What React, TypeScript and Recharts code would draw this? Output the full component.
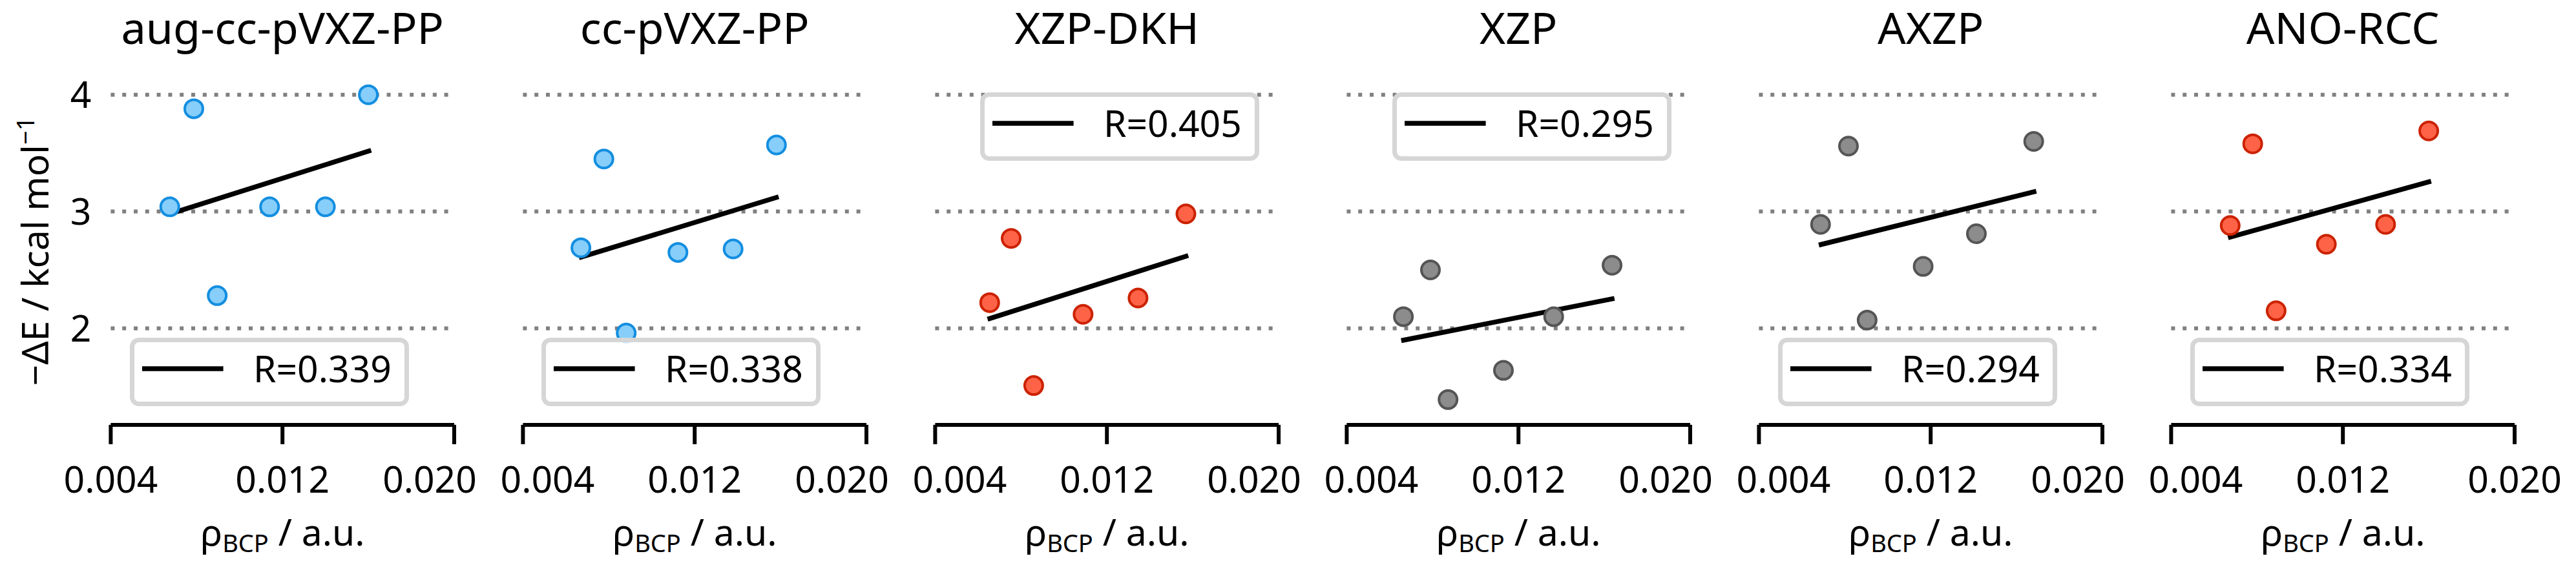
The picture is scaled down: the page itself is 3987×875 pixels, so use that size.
import { CartesianGrid, ComposedChart, Legend, Line, Scatter, XAxis, YAxis } from 'recharts'

const titles = ['aug-cc-pVXZ-PP', 'cc-pVXZ-PP', 'XZP-DKH', 'XZP', 'AXZP', 'ANO-RCC']
const rLabels = ['R=0.339', 'R=0.338', 'R=0.405', 'R=0.295', 'R=0.294', 'R=0.334']

const augRho = [0.00675, 0.00787, 0.00896, 0.0114, 0.014, 0.016]
const augDE = [3.04, 3.88, 2.28, 3.04, 3.04, 4.0]
const augFitRho = [0.00667, 0.01613]
const augFitDE = [2.975, 3.524]

const ccRho = [0.0067, 0.00777, 0.00881, 0.01122, 0.01379, 0.01581]
const ccDE = [2.69, 3.45, 1.96, 2.65, 2.68, 3.57]
const ccFitRho = [0.00661, 0.01591]
const ccFitDE = [2.604, 3.126]

const dkhRho = [0.00654, 0.00754, 0.00859, 0.01089, 0.01345, 0.01568]
const dkhDE = [2.22, 2.77, 1.51, 2.12, 2.26, 2.98]
const dkhFitRho = [0.00644, 0.01579]
const dkhFitDE = [2.078, 2.623]

const xzpRho = [0.00664, 0.0079, 0.00872, 0.0113, 0.01364, 0.01636]
const xzpDE = [2.1, 2.5, 1.39, 1.64, 2.1, 2.54]
const xzpFitRho = [0.00654, 0.01647]
const xzpFitDE = [1.895, 2.256]

const axzpRho = [0.00687, 0.00817, 0.00904, 0.01165, 0.01413, 0.0168]
const axzpDE = [2.89, 3.56, 2.07, 2.53, 2.81, 3.6]
const axzpFitRho = [0.00679, 0.01692]
const axzpFitDE = [2.713, 3.174]

const anoRho = [0.00675, 0.0078, 0.00889, 0.01123, 0.01399, 0.016]
const anoDE = [2.88, 3.58, 2.15, 2.72, 2.89, 3.69]
const anoFitRho = [0.00665, 0.01611]
const anoFitDE = [2.776, 3.26]

const xTicks = [0.004, 0.012, 0.02]
const yTicks = [2, 3, 4]

const blue = { fill: '#87cefa', stroke: '#138ee0' }
const red = { fill: '#ff6347', stroke: '#cc2200' }
const gray = { fill: '#8c8c8c', stroke: '#555555' }

const toPoints = (xs: number[], ys: number[]) => xs.map((x, i) => ({ x, y: ys[i] }))

const panels = [
  { rho: augRho, dE: augDE, fitRho: augFitRho, fitDE: augFitDE, color: blue, legendTop: false },
  { rho: ccRho, dE: ccDE, fitRho: ccFitRho, fitDE: ccFitDE, color: blue, legendTop: false },
  { rho: dkhRho, dE: dkhDE, fitRho: dkhFitRho, fitDE: dkhFitDE, color: red, legendTop: true },
  { rho: xzpRho, dE: xzpDE, fitRho: xzpFitRho, fitDE: xzpFitDE, color: gray, legendTop: true },
  { rho: axzpRho, dE: axzpDE, fitRho: axzpFitRho, fitDE: axzpFitDE, color: gray, legendTop: false },
  { rho: anoRho, dE: anoDE, fitRho: anoFitRho, fitDE: anoFitDE, color: red, legendTop: false },
]

// each panel slot is 637.8px wide, but the chart box is wider and overlaps the next slot
const SLOT_W = 637.8
const CHART_W = 798
const CHART_H = 875
const PLOT_LEFT = 171.4
const PLOT_W = 531.6
const PLOT_CX = PLOT_LEFT + PLOT_W / 2
// end labels between neighbouring panels are pushed apart
const EDGE_SHIFT = 38

function FitLegend({ payload }: any) {
  const item = (payload || [])[0]
  if (!item) return null
  return (
    <div
      style={{
        boxSizing: 'border-box',
        width: 432,
        height: 106,
        border: '7px solid #d6d6d6',
        borderRadius: 14,
        background: 'rgba(255,255,255,0.8)',
      }}
    >
      <svg width={418} height={92} style={{ display: 'block' }}>
        <line x1={12} y1={41} x2={137.6} y2={41} stroke={item.color} strokeWidth={7.5} />
        <text x={184} y={62} fontSize={57} fill="#000">
          {item.value}
        </text>
      </svg>
    </div>
  )
}

function Panel({ index }: { index: number }) {
  const p = panels[index]
  const first = index === 0
  const last = index === panels.length - 1
  const dot = (props: any) => (
    <circle cx={props.cx} cy={props.cy} r={14} fill={p.color.fill} stroke={p.color.stroke} strokeWidth={4} />
  )
  const xTick = (props: any) => {
    const v = props.payload.value
    let shift = 0
    if (v === xTicks[0] && !first) shift = EDGE_SHIFT
    if (v === xTicks[xTicks.length - 1] && !last) shift = -EDGE_SHIFT
    return (
      <text x={props.x + shift} y={props.y} dy="0.71em" textAnchor="middle" fontSize={57} fill="#000">
        {v.toFixed(3)}
      </text>
    )
  }
  return (
    <ComposedChart
      width={CHART_W}
      height={CHART_H}
      margin={{ top: 92.4, right: CHART_W - PLOT_LEFT - PLOT_W, bottom: 0, left: first ? 0 : PLOT_LEFT }}
    >
      <CartesianGrid
        vertical={false}
        horizontalValues={yTicks}
        stroke="#808080"
        strokeWidth={6}
        strokeDasharray="6 11.8"
      />
      <XAxis
        type="number"
        dataKey="x"
        domain={[0.004, 0.02]}
        ticks={xTicks}
        allowDataOverflow
        height={217.1}
        tick={xTick}
        tickSize={30}
        tickMargin={34.7}
        axisLine={{ stroke: '#000', strokeWidth: 6 }}
        tickLine={{ stroke: '#000', strokeWidth: 6 }}
      />
      <YAxis
        type="number"
        dataKey="y"
        domain={[1.174, 4.3]}
        ticks={yTicks}
        allowDataOverflow
        hide={!first}
        width={PLOT_LEFT}
        tick={{ fill: '#000', fontSize: 57 }}
        tickSize={0}
        tickMargin={30}
        axisLine={false}
        tickLine={false}
      />
      <Scatter data={toPoints(p.rho, p.dE)} dataKey="y" shape={dot} legendType="none" isAnimationActive={false} />
      <Line
        data={toPoints(p.fitRho, p.fitDE)}
        dataKey="y"
        name={rLabels[index]}
        stroke="#000"
        strokeWidth={7.5}
        dot={false}
        activeDot={false}
        legendType="line"
        isAnimationActive={false}
      />
      <Legend
        layout="horizontal"
        verticalAlign="middle"
        align="center"
        content={FitLegend}
        wrapperStyle={
          p.legendTop
            ? { left: PLOT_LEFT + 70.5, top: 143, width: 432, height: 106 }
            : { left: PLOT_LEFT + 29.3, top: 523, width: 432, height: 106 }
        }
      />
      <text x={PLOT_CX} y={68.3} textAnchor="middle" fontSize={68.4} fill="#000">
        {titles[index]}
      </text>
      <text x={PLOT_CX} y={845} textAnchor="middle" fontSize={57} fill="#000">
        <tspan>ρ</tspan>
        <tspan fontSize={38} dy={10}>
          BCP
        </tspan>
        <tspan dy={-10}> / a.u.</tspan>
      </text>
      {first && (
        <text transform="translate(75,389) rotate(-90)" textAnchor="middle" fontSize={57} fill="#000">
          −ΔE / kcal mol
          <tspan fontSize={38} dy={-22}>
            −1
          </tspan>
        </text>
      )}
    </ComposedChart>
  )
}

export default function App() {
  return (
    <div
      style={{
        position: 'absolute',
        left: 0,
        top: 0,
        width: 3987,
        height: 875,
        overflow: 'hidden',
        background: '#fff',
        fontFamily: '"Noto Sans", sans-serif',
      }}
    >
      {titles.map((t, i) => (
        <div key={t} style={{ position: 'absolute', left: i * SLOT_W, top: 0 }}>
          <Panel index={i} />
        </div>
      ))}
    </div>
  )
}
